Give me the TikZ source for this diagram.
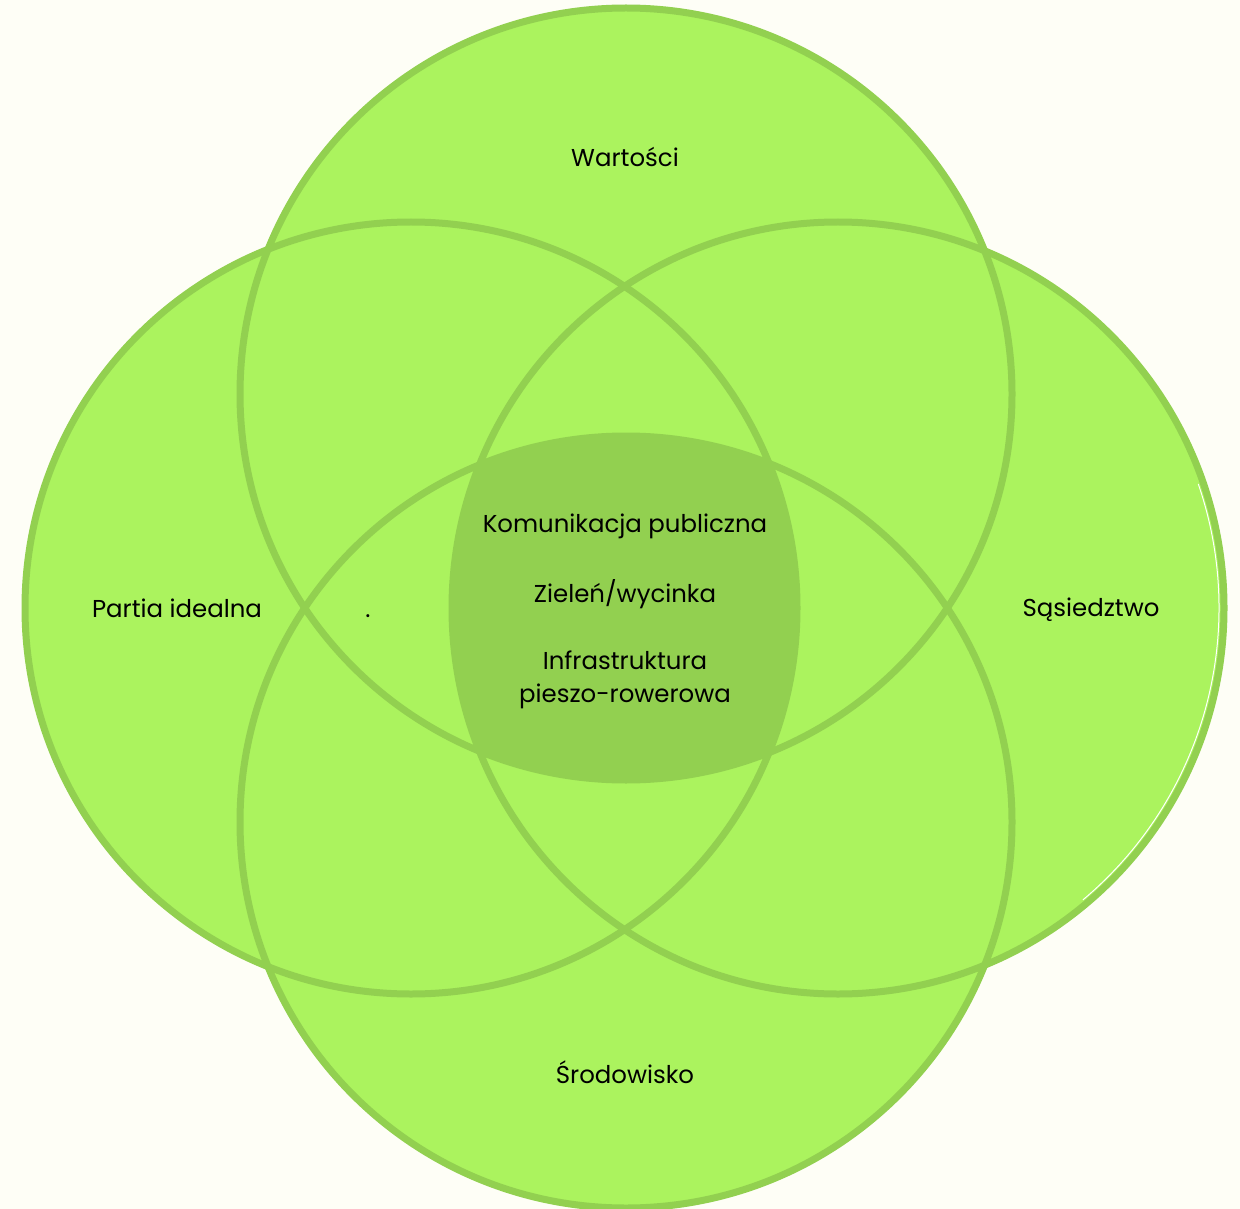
\documentclass[tikz,border=0pt]{standalone}
\usepackage{fontspec}
\setmainfont{Poppins}
\definecolor{paper}{HTML}{FEFEF6}
\definecolor{leaf}{HTML}{ABF35E}
\definecolor{moss}{HTML}{92D050}
\begin{document}
\begin{tikzpicture}[x=0.02cm, y=-0.02cm,
		circle fill/.style = {fill=leaf},
		circle line/.style = {draw=moss, line width=0.14cm},
		label text/.style = {anchor=base, inner sep=0pt, text=black,
			font=\fontsize{13.9}{18.7}\selectfont, align=center}]

	\fill[paper] (0,0) rectangle (1240,1209);
	\useasboundingbox (0,0) rectangle (1240,1209);

	\coordinate (top) at (626,394);
	\coordinate (left) at (411,608);
	\coordinate (right) at (838,608);
	\coordinate (bottom) at (626,822);

	% fills
	\path[circle fill] (top) circle[radius=386];
	\path[circle fill] (left) circle[radius=386];
	\path[circle fill] (right) circle[radius=386];
	\path[circle fill] (bottom) circle[radius=386];

	% common part of all four
	\begin{scope}
		\clip (top) circle[radius=386];
		\clip (left) circle[radius=386];
		\clip (right) circle[radius=386];
		\fill[moss] (bottom) circle[radius=386];
	\end{scope}

	% outlines
	\draw[circle line] (top) circle[radius=386];
	\draw[circle line] (left) circle[radius=386];
	\draw[circle line] (right) circle[radius=386];
	\draw[circle line] (bottom) circle[radius=386];
	\draw[white, line width=0.02cm] (right) ++(-19:381) arc[start angle=-19, end angle=50, radius=381];

	\node[label text] (wartosci) at (625,167) {Wartości};
	\node[label text] (partia) at (177,617) {Partia idealna};
	\node[label text] (kropka) at (368,617) {.};
	\node[label text] (sasiedztwo) at (1091,616) {Sąsiedztwo};
	\node[label text] (srodowisko) at (625,1083) {Środowisko};
	\node[label text] (komunikacja) at (625,532) {Komunikacja publiczna};
	\node[label text] (zielen) at (625,602) {Zieleń/wycinka};
	\node[label text] (infrastruktura) at (625,702) {Infrastruktura\\pieszo-rowerowa};
\end{tikzpicture}
\end{document}
